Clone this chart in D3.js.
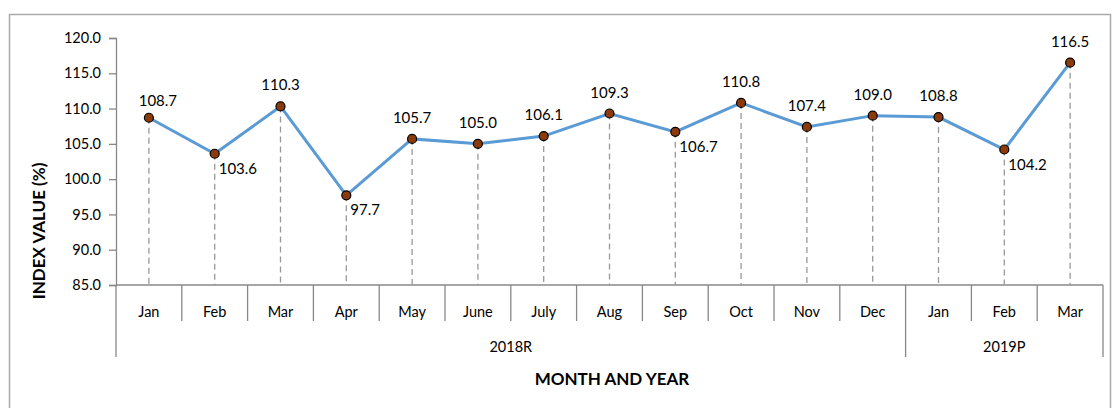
<!DOCTYPE html>
<html><head><meta charset="utf-8">
<script src="https://cdn.jsdelivr.net/npm/d3@7"></script>
<style>body{margin:0;background:#fff}svg{display:block}text{font-family:Lato,"Open Sans",sans-serif;fill:#000}</style>
</head><body><svg id="c" width="1113" height="408"></svg>
<script>
const months = ["Jan","Feb","Mar","Apr","May","June","July","Aug","Sep","Oct","Nov","Dec","Jan","Feb","Mar"];
const years = ["2018R","2018R","2018R","2018R","2018R","2018R","2018R","2018R","2018R","2018R","2018R","2018R","2019P","2019P","2019P"];
const values = [108.7,103.6,110.3,97.7,105.7,105.0,106.1,109.3,106.7,110.8,107.4,109.0,108.8,104.2,116.5];
const labelBelow = [false,true,false,true,false,false,false,false,true,false,false,false,false,true,false];
const yTicks = [85,90,95,100,105,110,115,120];
const yearGroups = ["2018R","2019P"];

const svg = d3.select("#c");
svg.append("rect").attr("x",9.5).attr("y",14.5).attr("width",1101).attr("height",420)
  .attr("fill","none").attr("stroke","#aaa").attr("stroke-width",1.5);

const idx = d3.range(values.length);
const x = d3.scaleBand().domain(idx).range([116,1103]);
const y = d3.scaleLinear().domain([85,120]).range([285,38]);
const cx = i => x(i)+x.bandwidth()/2;
const xEnd = x(values.length-1)+x.bandwidth();

// y axis
const ya = svg.append("g").attr("transform","translate(116,0)")
  .call(d3.axisLeft(y).tickValues(yTicks).tickFormat(d3.format(".1f")).tickSize(7).tickPadding(8));
ya.select(".domain").attr("stroke","#888").attr("stroke-width",1.3);
ya.selectAll(".tick line").attr("stroke","#888").attr("stroke-width",1.3);
ya.selectAll(".tick text").attr("font-size",14.5).attr("font-family","Lato,sans-serif");

// x axis
svg.append("line").attr("x1",116).attr("x2",xEnd).attr("y1",285).attr("y2",285).attr("stroke","#888").attr("stroke-width",1.3);
const bounds = d3.range(values.length+1);
svg.selectAll(".sep").data(bounds).join("line")
  .attr("x1",i=> i<values.length ? x(i) : xEnd)
  .attr("x2",i=> i<values.length ? x(i) : xEnd)
  .attr("y1",285)
  .attr("y2",i=> (i===0||i===values.length|| years[i]!==years[i-1]) ? 357 : 321)
  .attr("stroke","#888").attr("stroke-width",1.3);
svg.selectAll(".mlab").data(idx).join("text")
  .attr("x",cx).attr("y",311).attr("text-anchor","middle").attr("dominant-baseline","central")
  .attr("font-size",14.5).text(i=>months[i]);
yearGroups.forEach(g=>{
  const ii = idx.filter(i=>years[i]===g);
  const x0 = x(ii[0]), x1 = x(ii[ii.length-1])+x.bandwidth();
  svg.append("text").attr("x",(x0+x1)/2).attr("y",346).attr("text-anchor","middle").attr("dominant-baseline","central")
    .attr("font-size",14.5).text(g);
});

// titles
svg.append("text").attr("x",612).attr("y",378).attr("text-anchor","middle").attr("dominant-baseline","central")
  .attr("font-size",17).attr("font-weight","bold").text("MONTH AND YEAR");
svg.append("text").attr("transform","translate(38,231) rotate(-90)").attr("text-anchor","middle").attr("dominant-baseline","central")
  .attr("font-size",17).attr("font-weight","bold").text("INDEX  VALUE (%)");

// drop lines
svg.selectAll(".drop").data(idx).join("line")
  .attr("x1",cx).attr("x2",cx).attr("y1",i=>y(values[i])).attr("y2",285)
  .attr("stroke","#999").attr("stroke-width",1.3).attr("stroke-dasharray","6,4");

// line
svg.append("path").datum(idx)
  .attr("d",d3.line().x(cx).y(i=>y(values[i])))
  .attr("fill","none").attr("stroke","#5B9BD5").attr("stroke-width",3);

// markers
svg.selectAll(".pt").data(idx).join("circle")
  .attr("cx",cx).attr("cy",i=>y(values[i])).attr("r",4.5)
  .attr("fill","#8B3A0C").attr("stroke","#000").attr("stroke-width",1.2);

// data labels
svg.selectAll(".dl").data(idx).join("text")
  .attr("x",i=> labelBelow[i] ? cx(i)+4 : cx(i) + (i===0 ? 9 : 0))
  .attr("y",i=> labelBelow[i] ? y(values[i])+14 : y(values[i]) - (i===0 ? 18 : 22))
  .attr("text-anchor",i=> labelBelow[i] ? "start" : "middle")
  .attr("dominant-baseline","central")
  .attr("font-size",15).text(i=>values[i].toFixed(1));
</script></body></html>
